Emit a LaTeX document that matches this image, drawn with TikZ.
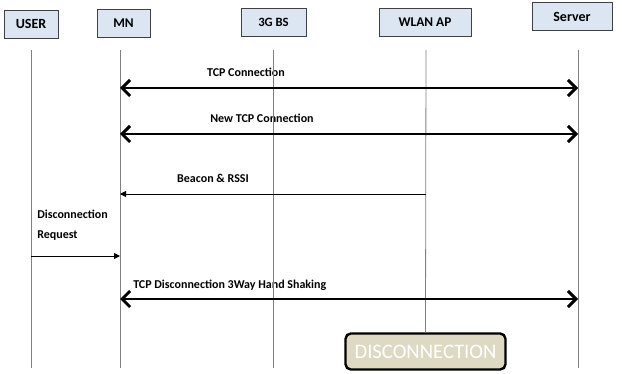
\documentclass[tikz,border=0pt]{standalone}
\usepackage{fontspec}
\setmainfont{Carlito}
\usetikzlibrary{arrows.meta, positioning}

\definecolor{entfill}{RGB}{220,230,242}
\definecolor{discfill}{RGB}{221,217,195}

\tikzset{
    ent/.style={draw=black!75, fill=entfill, minimum height=21pt, inner sep=0pt},
    life/.style={draw=black!50, line width=0.6pt},
    bigmsg/.style={line width=2.2pt, {Straight Barb[length=6pt, width=12pt]}-{Straight Barb[length=6pt, width=12pt]}},
    msg/.style={line width=0.7pt, -{Triangle[length=4.5pt, width=4.5pt]}},
    lbl/.style={inner sep=0pt}
}

\begin{document}
\begin{tikzpicture}[x=0.75pt, y=-0.75pt, font=\bfseries\fontsize{9}{11}\selectfont]
    \useasboundingbox (0,0) rectangle (622,374);
    % 实体
    \node[ent, minimum width=40.5pt, font=\bfseries\fontsize{10.5}{12}\selectfont] (user) at (31,24) {USER};
    \node[ent, minimum width=40pt, font=\bfseries\fontsize{10}{12}\selectfont]   (mn)   at (123.5,23.5) {MN};
    \node[ent, minimum width=49pt, font=\bfseries\fontsize{9.5}{12}\selectfont]   (bs)   at (273.5,22) {3G BS};
    \node[ent, minimum width=69pt, font=\bfseries\fontsize{10}{12}\selectfont]   (ap)   at (425,22) {WLAN AP};
    \node[ent, minimum width=60pt, font=\bfseries\fontsize{10.5}{12}\selectfont]   (srv)  at (572,16.5) {Server};
    % 断开
    \node[draw=black, line width=1.8pt, rounded corners=4pt, fill=discfill, text=white,
          font=\fontsize{15.5}{17}\selectfont, minimum width=120pt, minimum height=27pt,
          inner sep=0pt] (disc) at (425.5,351.5) {DISCONNECTION};
    % 生命线
    \foreach \n/\x in {user/31, mn/120, bs/273, srv/578} {
        \coordinate (\n T) at (\x,50);
        \coordinate (\n B) at (\x,368);
    }
    \coordinate (apT) at (426,50);
    % 消息端点
    \foreach \n/\y in {1/88, 2/134, 5/299} {
        \coordinate (mn\n) at (120,\y);
        \coordinate (srv\n) at (578,\y);
    }
    \coordinate (ap3) at (426,194);
    \coordinate (mn3) at (120,194);
    \coordinate (user4) at (31,256);
    \coordinate (mn4) at (120,256);
    % 标签
    \node[lbl] (tcp) at (246,72) {TCP Connection};
    \node[lbl] (newtcp) at (262,118) {New TCP Connection};
    \node[lbl] (beacon) at (213,178) {Beacon \& RSSI};
    \node[lbl, anchor=west, align=left, font=\bfseries\fontsize{9}{15}\selectfont] (req) at (37,225) {Disconnection\\Request};
    \node[lbl, anchor=west] (tcpdis) at (133,285) {TCP Disconnection 3Way Hand Shaking};
    % 线
    \foreach \n in {user, mn, bs, srv} {
        \draw[life] (\n T) -- (\n B);
    }
    \draw[life] (apT) -- (disc.north);
    \draw[bigmsg] (mn1) -- (srv1);
    \draw[bigmsg] (mn2) -- (srv2);
    \draw[msg] (ap3) -- (mn3);
    \draw[msg] (user4) -- (mn4);
    \draw[bigmsg] (mn5) -- (srv5);
\end{tikzpicture}
\end{document}
